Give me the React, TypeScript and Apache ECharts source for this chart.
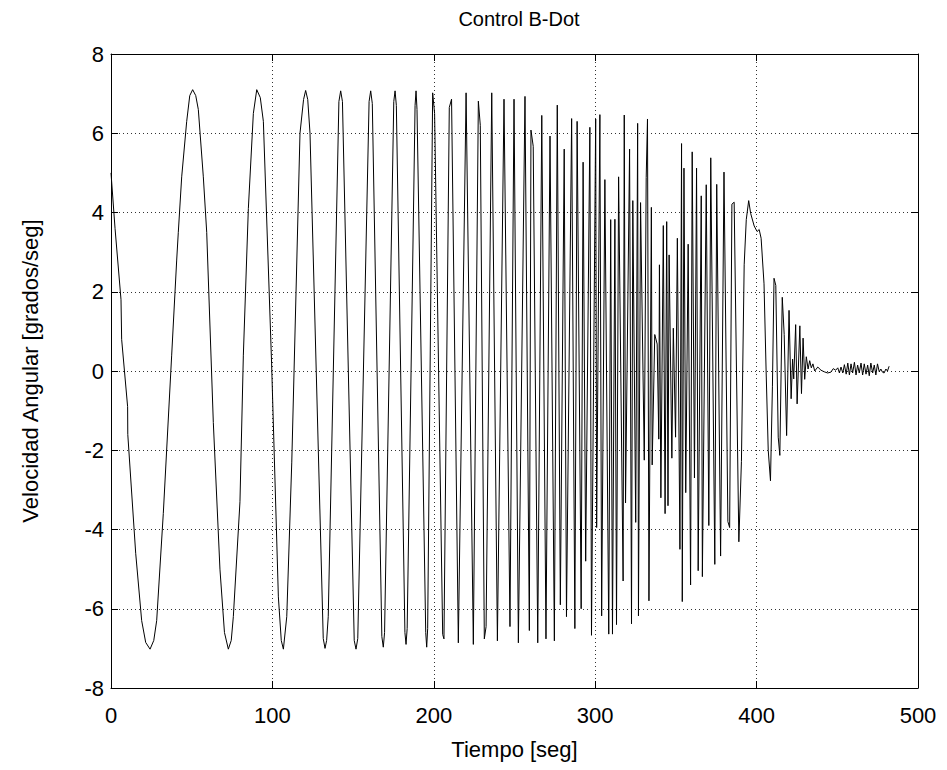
import React, { useEffect, useRef } from "react";
import * as echarts from "echarts";

const tiempo: number[] = [
  0, 2.5, 6.2, 6.6, 10.3, 10.4, 15.3, 19.0, 21.5, 24.2, 26.5, 28.3, 32.4, 37.6, 40.7, 41.7, 43.8, 46.9, 48.8, 50.6,
  52.5, 54.1, 57.2, 59.3, 63.4, 67.5, 70.3, 72.7, 74.5, 75.8, 79.9, 82.0, 85.1, 88.2, 90.3, 92.5, 94.4, 99.5, 103.7, 105.5,
  106.8, 108.9, 112.0, 117.1, 119.3, 120.6, 121.9, 123.3, 131.5, 132.6, 133.6, 134.6, 141.2, 142.3, 143.4, 150.7, 151.8, 152.9, 159.9, 160.9,
  161.9, 167.8, 168.7, 169.5, 175.2, 176.0, 176.8, 182.1, 182.8, 183.5, 188.4, 189.0, 189.6, 195.0, 195.6, 196.2, 199.3, 200.5, 205.5, 206.3,
  209.6, 211.0, 215.2, 220.0, 224.5, 227.6, 228.8, 231.3, 232.4, 235.9, 239.4, 243.5, 247.2, 249.7, 252.4, 256.5, 259.2, 260.2, 261.6, 264.4,
  266.9, 269.5, 272.0, 274.7, 276.5, 278.4, 280.8, 282.2, 285.4, 287.4, 288.8, 291.3, 292.5, 294.1, 296.7, 297.7, 300.3, 300.9, 302.9, 304.0,
  306.0, 308.4, 309.6, 310.7, 312.2, 313.2, 314.5, 317.3, 318.0, 318.8, 321.3, 322.5, 323.3, 325.1, 326.3, 326.8, 328.1, 330.4, 331.6, 332.4,
  333.3, 334.8, 335.3, 336.9, 338.4, 339.4, 339.8, 340.7, 342.2, 343.3, 344.3, 345.1, 345.8, 347.5, 348.4, 349.8, 350.9, 352.5, 353.5, 353.95,
  355.0, 356.1, 357.6, 359.1, 360.1, 361.5, 362.8, 363.8, 365.7, 366.4, 368.8, 370.4, 371.6, 374.1, 375.3, 377.7, 379.8, 382.2, 383.3, 384.7,
  386.1, 389.0, 390.6, 392.3, 393.6, 395.1, 396.3, 398.5, 400.3, 401.6, 402.8, 404.6, 405.9, 407.2, 408.6, 409.8, 410.8, 411.9, 413.4, 414.4,
  415.9, 417.1, 418.6, 420.1, 421.4, 422.3, 423.0, 424.2, 425.1, 426.8, 427.8, 428.8, 429.8, 430.8, 431.9, 432.9, 433.9, 434.9, 436.0, 437.9,
  439.9, 441.9, 444.0, 446.0, 447.5, 449.0, 450.3, 451.3, 452.3, 453.4, 454.4, 455.5, 456.5, 457.5, 458.5, 459.5, 460.6, 461.6, 462.6, 463.6,
  464.7, 465.7, 466.7, 467.8, 468.8, 469.8, 470.8, 471.9, 472.9, 473.9, 474.9, 476.0, 477.0, 478.0, 479.0, 480.1, 481.1, 482.1,
];

const velocidad: number[] = [
  5.0, 3.6, 1.8, 0.8, -0.9, -1.6, -4.6, -6.3, -6.85, -7.02, -6.8, -6.3, -3.6, 0.4, 2.8, 3.5, 4.9, 6.3, 6.95, 7.1,
  6.95, 6.6, 4.9, 3.5, -1.3, -5.0, -6.6, -7.02, -6.8, -6.2, -3.3, 0.4, 4.1, 6.5, 7.1, 6.9, 6.3, 0.2, -5.7, -6.8,
  -7.02, -6.2, -2.3, 6.0, 6.85, 7.08, 6.85, 6.0, -6.75, -7.0, -6.8, -6.2, 6.8, 7.07, 6.8, -6.8, -7.02, -6.75, 6.8, 7.07,
  6.75, -6.7, -6.97, -6.6, 6.8, 7.07, 6.7, -6.6, -6.9, -6.5, 6.7, 7.07, 6.6, -6.6, -6.97, -6.5, 7.02, 6.5, -6.65, -6.76,
  6.65, 6.86, -6.86, 7.02, -6.9, 6.81, 6.2, -6.76, -6.45, 7.02, -6.81, 6.86, -6.45, 6.86, -6.86, 6.93, -6.55, 6.08, 5.67, -6.86,
  6.45, -6.76, 5.93, -6.81, 6.71, -5.9, 5.6, -6.2, 6.37, -6.5, 6.3, -6.0, 5.27, -4.8, 6.15, -6.67, 6.36, -3.95, 6.47, -6.18,
  4.83, -6.64, 3.82, -6.64, 3.83, -6.4, 4.9, -5.3, 6.46, -3.33, 5.6, -6.38, 4.3, -3.82, 6.25, -6.18, 4.25, -2.25, 4.88, 6.36,
  -5.8, 4.13, -2.37, 0.92, 0.68, -1.72, 2.68, -3.2, 3.67, -3.6, 3.77, -3.4, 2.93, -2.2, 1.08, -1.67, 3.35, -4.5, 5.74, -5.82,
  5.12, -3.07, 3.2, -5.4, 5.53, -2.7, 5.12, -5.04, 4.42, -5.19, 4.7, -3.9, 5.38, -4.88, 4.71, -4.67, 5.02, -3.8, -3.95, 4.21,
  4.26, -4.31, -2.28, 2.68, 3.82, 4.3, 3.98, 3.66, 3.52, 3.57, 3.35, 2.2, 0.0, -2.0, -2.77, -0.4, 2.34, 2.16, -1.67, -2.13,
  1.86, 0.92, -1.63, 1.53, -0.7, 0.3, -0.2, 1.17, -0.83, 1.14, -0.57, 0.83, -0.21, 0.36, 0.05, 0.26, 0.08, 0.18, 0.0, 0.1,
  0.02, -0.02, -0.05, -0.03, 0.06, 0.02, 0.08, -0.05, 0.1, -0.05, 0.16, -0.08, 0.2, -0.1, 0.18, -0.05, 0.22, -0.1, 0.15, -0.05,
  0.2, -0.1, 0.18, -0.08, 0.15, -0.12, 0.2, -0.05, 0.15, -0.1, 0.18, -0.02, 0.05, -0.03, -0.05, 0.05, 0.0, 0.12,
];

const xTicks = { min: 0, max: 500, interval: 100 };
const yTicks = { min: -8, max: 8, interval: 2 };

const FONT = "'Liberation Sans', Arial, Helvetica, sans-serif";

export default function App() {
  const ref = useRef<HTMLDivElement>(null);
  useEffect(() => {
    document.body.style.margin = "0";
    if (!ref.current) return;
    const chart = echarts.init(ref.current, undefined, { renderer: "svg" });
    const data = tiempo.map((t, i) => [t, velocidad[i]]);
    const boxAxisLine = { show: true, onZero: false, lineStyle: { color: "#000", width: 1 } };
    const tick = { show: true, inside: true, length: 7, lineStyle: { color: "#000", width: 1 } };
    const grid = { type: [1, 3] as any, color: "#333", width: 1 };
    chart.setOption({
      animation: false,
      backgroundColor: "#fff",
      textStyle: { fontFamily: FONT },
      title: {
        text: "Control B-Dot",
        left: 514,
        top: 4,
        textAlign: "center",
        textStyle: { fontFamily: FONT, fontSize: 20, fontWeight: "normal", color: "#000" },
      },
      grid: { left: 111, right: 29, top: 54, bottom: 82, containLabel: false },
      xAxis: [
        {
          type: "value",
          ...xTicks,
          position: "bottom",
          axisLine: boxAxisLine,
          axisTick: tick,
          axisLabel: { color: "#000", fontSize: 22, fontFamily: FONT, margin: 16 },
          splitLine: { show: true, lineStyle: grid },
          name: "Tiempo [seg]",
          nameLocation: "middle",
          nameGap: 50,
          nameTextStyle: { color: "#000", fontSize: 22, fontFamily: FONT },
        },
        {
          type: "value",
          ...xTicks,
          position: "top",
          axisLine: boxAxisLine,
          axisTick: tick,
          axisLabel: { show: false },
          splitLine: { show: false },
        },
      ],
      yAxis: [
        {
          type: "value",
          ...yTicks,
          position: "left",
          axisLine: boxAxisLine,
          axisTick: tick,
          axisLabel: { color: "#000", fontSize: 22, fontFamily: FONT, margin: 7 },
          splitLine: { show: true, lineStyle: grid },
          name: "Velocidad Angular [grados/seg]",
          nameLocation: "middle",
          nameGap: 70,
          nameRotate: 90,
          nameTextStyle: { color: "#000", fontSize: 22, fontFamily: FONT },
        },
        {
          type: "value",
          ...yTicks,
          position: "right",
          axisLine: boxAxisLine,
          axisTick: tick,
          axisLabel: { show: false },
          splitLine: { show: false },
        },
      ],
      series: [
        {
          type: "line",
          data,
          xAxisIndex: 0,
          yAxisIndex: 0,
          showSymbol: false,
          symbol: "none",
          lineStyle: { color: "#000", width: 1 },
          clip: true,
        },
      ],
    });
    return () => chart.dispose();
  }, []);
  return <div ref={ref} style={{ width: 947, height: 770 }} />;
}
